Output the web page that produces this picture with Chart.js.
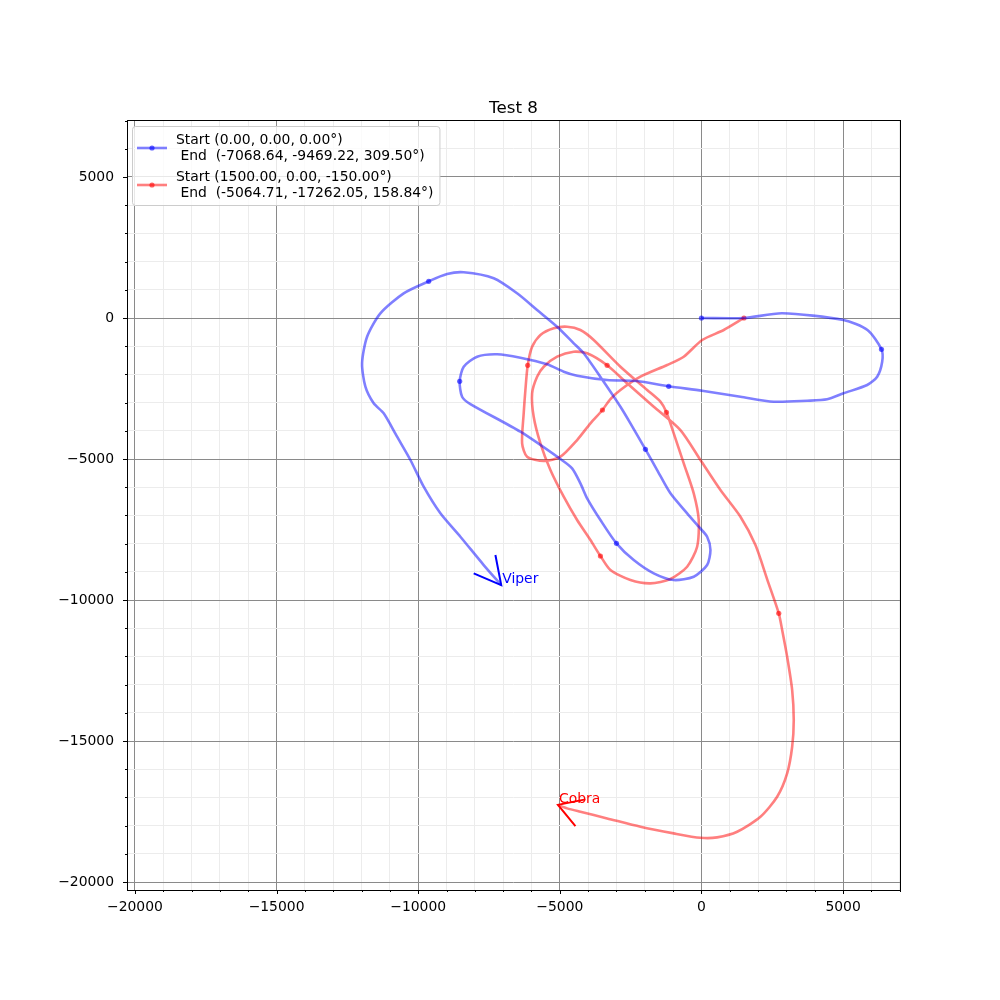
<!DOCTYPE html>
<html>
<head>
<meta charset="utf-8">
<script src="https://cdn.jsdelivr.net/npm/chart.js@4/dist/chart.umd.min.js"></script>
<style>
  html, body { margin: 0; padding: 0; background: #fff; }
</style>
</head>
<body>
<canvas id="chart" width="1000" height="1000"></canvas>
<script>
const FONT = "'DejaVu Sans', sans-serif";
const chartTitle = "Test 8";

// axis range + ticks
const axisMinX = -20280, axisMaxX = 7010;
const axisMinY = -20280, axisMaxY = 7020;
const minorStep = 1000, majorStep = 5000;
const tickValues = [];
for (let v = -20000; v <= 7000; v += minorStep) tickValues.push(v);

// Viper track
const viperX = [0, 1500, 2850, 5014, 5861, 6356, 6381, 6204, 5851, 5014, 4438, 3732, 2553, 1377, 25, -1155, -2270, -3330, -4389, -4862, -5448, -6391, -7214, -7920, -8393, -8535, -8450, -8157, -6391, -4979, -4566, -4273, -4036, -3566, -3001, -2390, -1684, -978, -272, 201, 318, 201, -95, -505, -1095, -1564, -1977, -2507, -2860, -3566, -4156, -4509, -5095, -5802, -6508, -7334, -8393, -8980, -9629, -10512, -11335, -11804, -11981, -11864, -11571, -11218, -10745, -10275, -9806, -9216, -8510, -7687, -7068.64];
const viperY = [0, 0, 167, -71, -426, -1110, -1550, -2082, -2376, -2670, -2884, -2933, -2968, -2791, -2578, -2422, -2234, -2199, -2046, -1904, -1642, -1408, -1287, -1372, -1727, -2245, -2791, -3050, -4032, -5000, -5330, -5862, -6393, -7163, -7989, -8581, -9053, -9291, -9174, -8759, -8227, -7755, -7400, -6925, -6216, -5390, -4656, -3734, -3145, -2092, -1252, -897, -309, 284, 876, 1408, 1621, 1560, 1301, 876, 167, -663, -1606, -2436, -3025, -3379, -4209, -5035, -5982, -6925, -7755, -8759, -9469.22];
const viperMarks = [0, 5, 15, 25, 34, 46, 58];

// Cobra track
const cobraX = [1500, 787, 25, -625, -1211, -2154, -2860, -3213, -3496, -3919, -4389, -4979, -5568, -6155, -6331, -6275, -6215, -6133, -5978, -5685, -5215, -4742, -4273, -3803, -2860, -1917, -1448, -1236, -978, -625, -272, -95, -152, -505, -1095, -1801, -2507, -3213, -3566, -3919, -4389, -4862, -5332, -5685, -5922, -5978, -5802, -5568, -5095, -4509, -4036, -3330, -2624, -1684, -742, -35, 671, 1377, 1907, 2330, 2730, 2850, 3026, 3203, 3259, 3203, 3026, 2673, 2083, 1261, 554, -35, -978, -2154, -3330, -4273, -4742, -5064.71];
const cobraY = [0, -426, -780, -1372, -1667, -2082, -2553, -2872, -3262, -3734, -4326, -4918, -5071, -4918, -4443, -3379, -2553, -1677, -1018, -603, -365, -309, -426, -780, -1727, -2553, -2968, -3344, -4088, -5152, -6216, -7163, -8110, -8819, -9255, -9408, -9291, -8936, -8439, -7872, -7163, -6337, -5390, -4443, -3500, -2670, -2082, -1727, -1372, -1195, -1252, -1677, -2316, -3145, -3972, -5035, -6099, -7046, -8050, -9291, -10471, -11063, -12010, -13191, -14255, -15201, -16145, -16975, -17684, -18216, -18415, -18429, -18273, -18039, -17741, -17507, -17386, -17262.05];
const cobraMarks = [0, 8, 17, 27, 38, 51, 60];

// heading arrows at the end of each track (arm, tip, arm)
const viperArrowX = [-7274, -7068.64, -8040];
const viperArrowY = [-8404, -9469.22, -9053];
const cobraArrowX = [-4096, -5064.71, -4449];
const cobraArrowY = [-17067, -17262.05, -18014];

const shipNames = ["Viper", "Cobra"];
const legendLabels = [
  "Start (0.00, 0.00, 0.00°)\n End  (-7068.64, -9469.22, 309.50°)",
  "Start (1500.00, 0.00, -150.00°)\n End  (-5064.71, -17262.05, 158.84°)"
];

const toPoints = (xs, ys) => xs.map((x, i) => ({ x: x, y: ys[i] }));
const radii = (n, marks) => Array.from({ length: n }, (_, i) => marks.includes(i) ? 2.6 : 0);

const minus = v => String(v).replace("-", "\u2212");

// title, tick marks, frame, legend box and ship names
const decorPlugin = {
  id: "decor",
  afterDraw(chart) {
    const { ctx, chartArea: a, scales } = chart;
    ctx.save();
    // title
    ctx.fillStyle = "#000";
    ctx.font = "16.7px " + FONT;
    ctx.textAlign = "center";
    ctx.textBaseline = "alphabetic";
    ctx.fillText(chartTitle, (a.left + a.right) / 2, a.top - 7);
    // frame
    ctx.strokeStyle = "#000";
    ctx.lineWidth = 1;
    ctx.strokeRect(Math.round(a.left) + 0.5, Math.round(a.top) + 0.5, Math.round(a.right - a.left), Math.round(a.bottom - a.top));
    // ticks
    ctx.beginPath();
    scales.x.ticks.forEach(t => {
      const px = Math.round(scales.x.getPixelForValue(t.value)) + 0.5;
      const len = t.value % majorStep === 0 ? 4 : 2;
      ctx.moveTo(px, a.bottom); ctx.lineTo(px, a.bottom + len);
    });
    scales.y.ticks.forEach(t => {
      const py = Math.round(scales.y.getPixelForValue(t.value)) + 0.5;
      const len = t.value % majorStep === 0 ? 4 : 2;
      ctx.moveTo(a.left, py); ctx.lineTo(a.left - len, py);
    });
    ctx.stroke();

    // ship names at arrow tips
    ctx.font = "13.9px " + FONT;
    ctx.textAlign = "left";
    ctx.textBaseline = "alphabetic";
    [[viperArrowX, viperArrowY, "blue"], [cobraArrowX, cobraArrowY, "red"]].forEach((s, i) => {
      ctx.fillStyle = s[2];
      ctx.fillText(shipNames[i], scales.x.getPixelForValue(s[0][1]) + 1, scales.y.getPixelForValue(s[1][1]) - 2);
    });

    // legend
    const items = chart.data.datasets.filter(d => d.inLegend);
    let w = 0;
    items.forEach(d => d.label.split("\n").forEach(s => { w = Math.max(w, ctx.measureText(s).width); }));
    const x0 = a.left + 5, y0 = a.top + 6;
    const lineH = 16, entryH = 37;
    const boxW = 44 + w + 6, boxH = items.length * entryH + 5;
    ctx.beginPath();
    ctx.roundRect(x0 + 0.5, y0 + 0.5, boxW, boxH, 3);
    ctx.fillStyle = "rgba(255,255,255,0.8)";
    ctx.fill();
    ctx.strokeStyle = "#cccccc";
    ctx.stroke();
    ctx.textBaseline = "middle";
    items.forEach((d, k) => {
      const top = y0 + 4 + k * entryH;
      const hy = top + 18;
      ctx.strokeStyle = d.borderColor;
      ctx.lineWidth = 2.6;
      ctx.beginPath();
      ctx.moveTo(x0 + 5, hy); ctx.lineTo(x0 + 35, hy);
      ctx.stroke();
      ctx.fillStyle = d.pointBackgroundColor;
      ctx.beginPath();
      ctx.arc(x0 + 20, hy, 2.6, 0, Math.PI * 2);
      ctx.fill();
      ctx.fillStyle = "#000";
      d.label.split("\n").forEach((s, j) => ctx.fillText(s, x0 + 44, top + 10 + j * lineH));
    });
    ctx.restore();
  }
};

const gridColor = c => (c.tick && c.tick.value % majorStep === 0) ? "#8a8a8a" : "#ececec";
const setTicks = s => { s.ticks = tickValues.map(v => ({ value: v })); };

new Chart(document.getElementById("chart"), {
  type: "scatter",
  data: {
    datasets: [
      {
        label: legendLabels[0],
        inLegend: true,
        data: toPoints(viperX, viperY),
        showLine: true,
        tension: 0.25,
        borderColor: "rgba(0,0,255,0.5)",
        borderWidth: 2.6,
        pointRadius: radii(viperX.length, viperMarks),
        pointBackgroundColor: "rgba(0,0,255,0.6)",
        pointBorderWidth: 0
      },
      {
        label: legendLabels[1],
        inLegend: true,
        data: toPoints(cobraX, cobraY),
        showLine: true,
        tension: 0.25,
        borderColor: "rgba(255,0,0,0.5)",
        borderWidth: 2.6,
        pointRadius: radii(cobraX.length, cobraMarks),
        pointBackgroundColor: "rgba(255,0,0,0.6)",
        pointBorderWidth: 0
      },
      {
        label: shipNames[0],
        data: toPoints(viperArrowX, viperArrowY),
        showLine: true,
        borderColor: "blue",
        borderWidth: 2,
        pointRadius: 0
      },
      {
        label: shipNames[1],
        data: toPoints(cobraArrowX, cobraArrowY),
        showLine: true,
        borderColor: "red",
        borderWidth: 2,
        pointRadius: 0
      }
    ]
  },
  options: {
    responsive: false,
    animation: false,
    layout: { padding: { left: 0, right: 100, top: 120, bottom: 0 } },
    plugins: {
      legend: { display: false },
      tooltip: { enabled: false },
      title: { display: false }
    },
    scales: {
      x: {
        type: "linear",
        min: axisMinX,
        max: axisMaxX,
        afterBuildTicks: setTicks,
        afterFit: s => { s.height = 110; },
        grid: { color: gridColor, lineWidth: 1, drawTicks: false },
        border: { display: false },
        ticks: {
          autoSkip: false,
          maxRotation: 0,
          padding: 9,
          color: "#000",
          font: { family: FONT, size: 13.9 },
          callback: v => v % majorStep === 0 ? minus(v) : ""
        }
      },
      y: {
        type: "linear",
        min: axisMinY,
        max: axisMaxY,
        afterBuildTicks: setTicks,
        afterFit: s => { s.width = 127; },
        grid: { color: gridColor, lineWidth: 1, drawTicks: false },
        border: { display: false },
        ticks: {
          autoSkip: false,
          padding: 13,
          color: "#000",
          font: { family: FONT, size: 13.9 },
          callback: v => v % majorStep === 0 ? minus(v) : ""
        }
      }
    }
  },
  plugins: [decorPlugin]
});
</script>
</body>
</html>
